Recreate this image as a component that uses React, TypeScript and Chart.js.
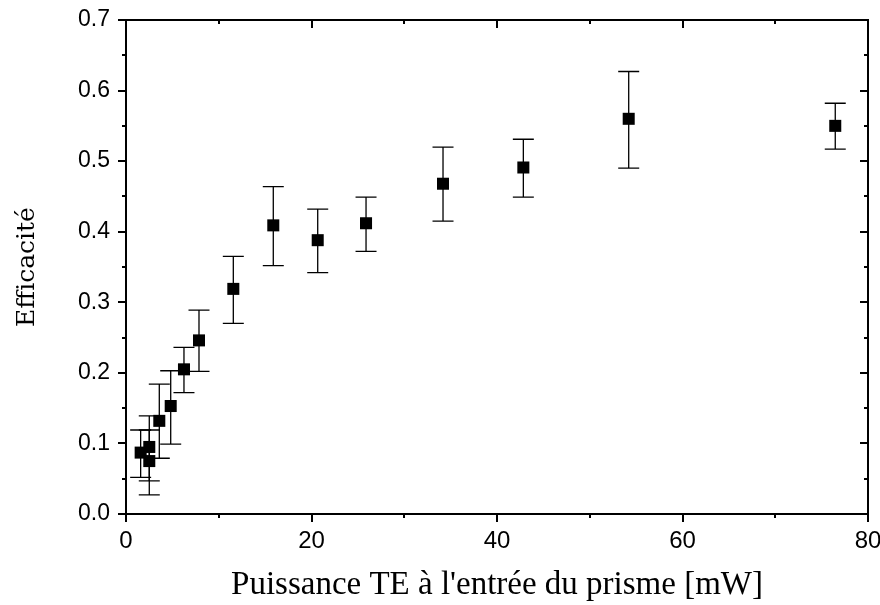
import React, { useEffect, useRef } from 'react';
import { Chart, registerables } from 'chart.js';

Chart.register(...registerables);

// Data
const powerMW = [1.58, 2.51, 2.51, 3.59, 4.82, 6.25, 7.87, 11.57, 15.88, 20.67, 25.88, 34.18, 42.84, 54.2, 76.47];
const efficiency = [0.087, 0.095, 0.075, 0.132, 0.153, 0.205, 0.246, 0.319, 0.409, 0.388, 0.412, 0.468, 0.491, 0.56, 0.55];
const errUpper = [0.119, 0.139, 0.119, 0.184, 0.203, 0.236, 0.289, 0.365, 0.464, 0.432, 0.449, 0.52, 0.531, 0.627, 0.582];
const errLower = [0.052, 0.047, 0.027, 0.079, 0.099, 0.172, 0.202, 0.27, 0.352, 0.342, 0.372, 0.415, 0.449, 0.49, 0.517];

const xMin = 0;
const xMax = 80;
const xMajorStep = 20;
const xMinorStep = 10;
const yMin = 0;
const yMax = 0.7;
const yMajorStep = 0.1;
const yMinorStep = 0.05;

const xTitle = "Puissance TE à l'entrée du prisme [mW]";
const yTitle = 'Efficacité';

const errorBarPlugin = {
  id: 'errorBars',
  beforeDatasetsDraw(chart: any) {
    const { ctx, scales } = chart;
    const xs = scales.x;
    const ys = scales.y;
    ctx.save();
    ctx.strokeStyle = '#000';
    ctx.lineWidth = 1.3;
    const cap = 10.5;
    for (let i = 0; i < powerMW.length; i++) {
      const px = xs.getPixelForValue(powerMW[i]);
      const pu = ys.getPixelForValue(errUpper[i]);
      const pl = ys.getPixelForValue(errLower[i]);
      ctx.beginPath();
      ctx.moveTo(px, pu);
      ctx.lineTo(px, pl);
      ctx.moveTo(px - cap, pu);
      ctx.lineTo(px + cap, pu);
      ctx.moveTo(px - cap, pl);
      ctx.lineTo(px + cap, pl);
      ctx.stroke();
    }
    ctx.restore();
  },
};

const framePlugin = {
  id: 'frameTicks',
  afterDatasetsDraw(chart: any) {
    const { ctx, chartArea, scales } = chart;
    const { left, right, top, bottom } = chartArea;
    const xs = scales.x;
    const ys = scales.y;
    ctx.save();
    ctx.strokeStyle = '#000';
    ctx.lineWidth = 2;
    ctx.strokeRect(left, top, right - left, bottom - top);
    const majorLen = 8;
    const minorLen = 4;
    ctx.beginPath();
    const nx = Math.round((xMax - xMin) / xMinorStep);
    for (let k = 0; k <= nx; k++) {
      const v = xMin + k * xMinorStep;
      const px = Math.round(xs.getPixelForValue(v));
      const major = Math.abs(v / xMajorStep - Math.round(v / xMajorStep)) < 1e-6;
      const len = major ? majorLen : minorLen;
      ctx.moveTo(px, bottom);
      ctx.lineTo(px, bottom + len);
      ctx.moveTo(px, top);
      ctx.lineTo(px, top + len);
    }
    const ny = Math.round((yMax - yMin) / yMinorStep);
    for (let k = 0; k <= ny; k++) {
      const v = yMin + k * yMinorStep;
      const py = Math.round(ys.getPixelForValue(v));
      const major = Math.abs(v / yMajorStep - Math.round(v / yMajorStep)) < 1e-6;
      const len = major ? majorLen : minorLen;
      ctx.moveTo(left, py);
      ctx.lineTo(left - len, py);
      ctx.moveTo(right, py);
      ctx.lineTo(right - len, py);
    }
    ctx.stroke();
    ctx.restore();
  },
};

export default function App() {
  const canvasRef = useRef<HTMLCanvasElement | null>(null);

  useEffect(() => {
    const canvas = canvasRef.current;
    if (!canvas) return;
    const points = powerMW.map((x, i) => ({ x, y: efficiency[i] }));
    const chart = new Chart(canvas, {
      type: 'scatter',
      data: {
        datasets: [
          {
            label: 'Efficacité',
            data: points,
            pointStyle: 'rect',
            pointRadius: 8.5,
            pointHoverRadius: 8.5,
            backgroundColor: '#000',
            borderColor: '#000',
            borderWidth: 0,
          },
        ],
      },
      options: {
        animation: false,
        responsive: false,
        devicePixelRatio: 1,
        events: [],
        layout: { padding: { top: 20, right: 12, left: 0, bottom: 0 } },
        plugins: {
          legend: { display: false },
          tooltip: { enabled: false },
        },
        scales: {
          x: {
            type: 'linear',
            min: xMin,
            max: xMax,
            afterFit(scale: any) {
              scale.height = 91;
              scale.paddingLeft = 0;
              scale.paddingRight = 0;
            },
            border: { display: false },
            grid: { display: false, drawTicks: false },
            ticks: {
              stepSize: xMajorStep,
              padding: 13,
              color: '#000',
              maxRotation: 0,
              font: { family: '"Liberation Sans", Arial, sans-serif', size: 24 },
              callback: (v: any) => String(Math.round(Number(v))),
            },
            title: {
              display: true,
              text: xTitle,
              color: '#000',
              font: { family: '"Liberation Serif", "Times New Roman", serif', size: 33 },
              padding: { top: 0, bottom: 0 },
            },
          },
          y: {
            type: 'linear',
            min: yMin,
            max: yMax,
            afterFit(scale: any) {
              scale.width = 126;
              scale.paddingTop = 0;
              scale.paddingBottom = 0;
            },
            border: { display: false },
            grid: { display: false, drawTicks: false },
            ticks: {
              stepSize: yMajorStep,
              padding: 16,
              color: '#000',
              font: { family: '"Liberation Sans", Arial, sans-serif', size: 23 },
              callback: (v: any) => Number(v).toFixed(1),
            },
            title: {
              display: true,
              text: yTitle,
              color: '#000',
              font: { family: '"DejaVu Serif", serif', size: 25 },
              padding: { top: 12, bottom: 0 },
            },
          },
        },
      },
      plugins: [errorBarPlugin, framePlugin],
    });
    return () => chart.destroy();
  }, []);

  return (
    <div style={{ position: 'fixed', left: 0, top: 0, width: 880, height: 605, background: '#fff' }}>
      <canvas ref={canvasRef} width={880} height={605} />
    </div>
  );
}
